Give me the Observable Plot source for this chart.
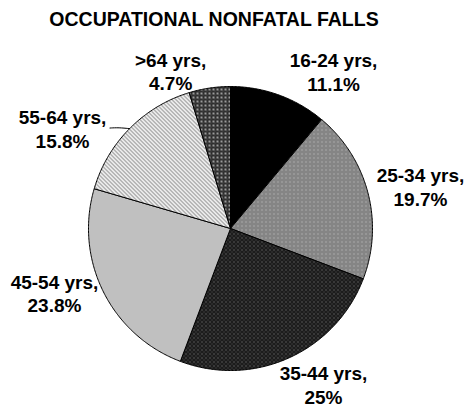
<!DOCTYPE html>
<html>
<head>
<meta charset="utf-8">
<script src="https://cdn.jsdelivr.net/npm/d3@7"></script>
<script src="https://cdn.jsdelivr.net/npm/@observablehq/plot@0.6"></script>
<style>
  html, body { margin: 0; padding: 0; background: #fff; }
</style>
</head>
<body>
<div id="chart"></div>
<script>
// ---- data ----
const chartTitle = "OCCUPATIONAL NONFATAL FALLS";
const ageGroups = ["16-24 yrs", "25-34 yrs", "35-44 yrs", "45-54 yrs", "55-64 yrs", ">64 yrs"];
const shares = [11.1, 19.7, 25, 23.8, 15.8, 4.7];

// ---- layout ----
const W = 467, H = 407;
const CX = 230, CY = 228, R = 142;
// label placement: [angle (deg, clockwise from 12 o'clock), distance in radii]
const labelPlacement = [[33.3, 1.322], [77.4, 1.371], [149.2, 1.279], [249.9, 1.320], [300.8, 1.377], [339.2, 1.187]];
const patternIds = ["p1624", "p2534", "p3544", "p4554", "p5564", "p64"];

const polar = (a, k) => ({x: k * Math.sin(a), y: -k * Math.cos(a)});

const arcs = d3.pie().sort(null).value(d => d).startAngle(0).endAngle(2 * Math.PI)(shares);

const slices = arcs.map((a, i) => {
  const pts = [{x: 0, y: 0}];
  const n = Math.max(2, Math.ceil((a.endAngle - a.startAngle) / 0.01));
  for (let j = 0; j <= n; j++) pts.push(polar(a.startAngle + (a.endAngle - a.startAngle) * j / n, 1));
  pts.push({x: 0, y: 0});
  return pts;
});

const labels = ageGroups.map((g, i) => {
  const [deg, k] = labelPlacement[i];
  const p = polar(deg * Math.PI / 180, k);
  return {...p, text: `${g},\n${shares[i]}%`};
});

// leader line for 55-64 label
const li = 4;
const mid = (arcs[li].startAngle + arcs[li].endAngle) / 2;
const leader = [polar(mid, 1.0), polar(mid - 0.045, 1.06), polar(mid - 0.085, 1.105)];

const marks = slices.map((pts, i) => Plot.line(pts, {
  x: "x", y: "y", fill: `url(#${patternIds[i]})`, stroke: "#000", strokeWidth: 1, strokeLinejoin: "miter"
}));
marks.push(Plot.line(leader, {x: "x", y: "y", stroke: "#000", strokeWidth: 1, curve: "basis"}));
marks.push(Plot.text(labels, {
  x: "x", y: "y", text: "text", fontSize: 19, fontWeight: "bold", lineHeight: 1.25,
  textAnchor: "middle", fill: "#000"
}));
marks.push(Plot.text([chartTitle], {
  frameAnchor: "top", text: d => d, fontSize: 19.5, fontWeight: "bold", lineAnchor: "top",
  dy: 12, dx: -20, fill: "#000"
}));

const svg = Plot.plot({
  width: W, height: H,
  margin: 0,
  x: {domain: [-CX / R, (W - CX) / R], range: [0, W], axis: null},
  y: {domain: [-CY / R, (H - CY) / R], range: [0, H], axis: null},
  style: {fontFamily: "'Liberation Sans', Arial, sans-serif", background: "#fff"},
  marks
});

const defs = d3.select(svg).insert("defs", ":first-child");
function pat(id, bg, rects) {
  const p = defs.append("pattern").attr("id", id).attr("patternUnits", "userSpaceOnUse")
    .attr("width", 4).attr("height", 4);
  p.append("rect").attr("width", 4).attr("height", 4).attr("fill", bg);
  rects.forEach(([x, y, w, h, c]) => p.append("rect").attr("x", x).attr("y", y).attr("width", w).attr("height", h).attr("fill", c));
}
pat("p1624", "#000", []);
pat("p2534", "#858585", [[1, 1, 1, 1, "#c8c8c8"]]);
pat("p3544", "#1c1c1c", [[1, 1, 1, 1, "#8a8a8a"], [3, 3, 1, 1, "#555"]]);
pat("p4554", "#c0c0c0", []);
pat("p5564", "#ffffff", [[0, 0, 1, 1, "#888"], [1, 1, 1, 1, "#888"], [2, 2, 1, 1, "#888"], [3, 3, 1, 1, "#888"],
                         [1, 0, 1, 1, "#bbb"], [2, 1, 1, 1, "#bbb"], [3, 2, 1, 1, "#bbb"], [0, 3, 1, 1, "#bbb"]]);
pat("p64", "#2e2e2e", [[0, 0, 2, 2, "#9a9a9a"], [2, 2, 1, 1, "#555"]]);

document.getElementById("chart").appendChild(svg);
</script>
</body>
</html>
